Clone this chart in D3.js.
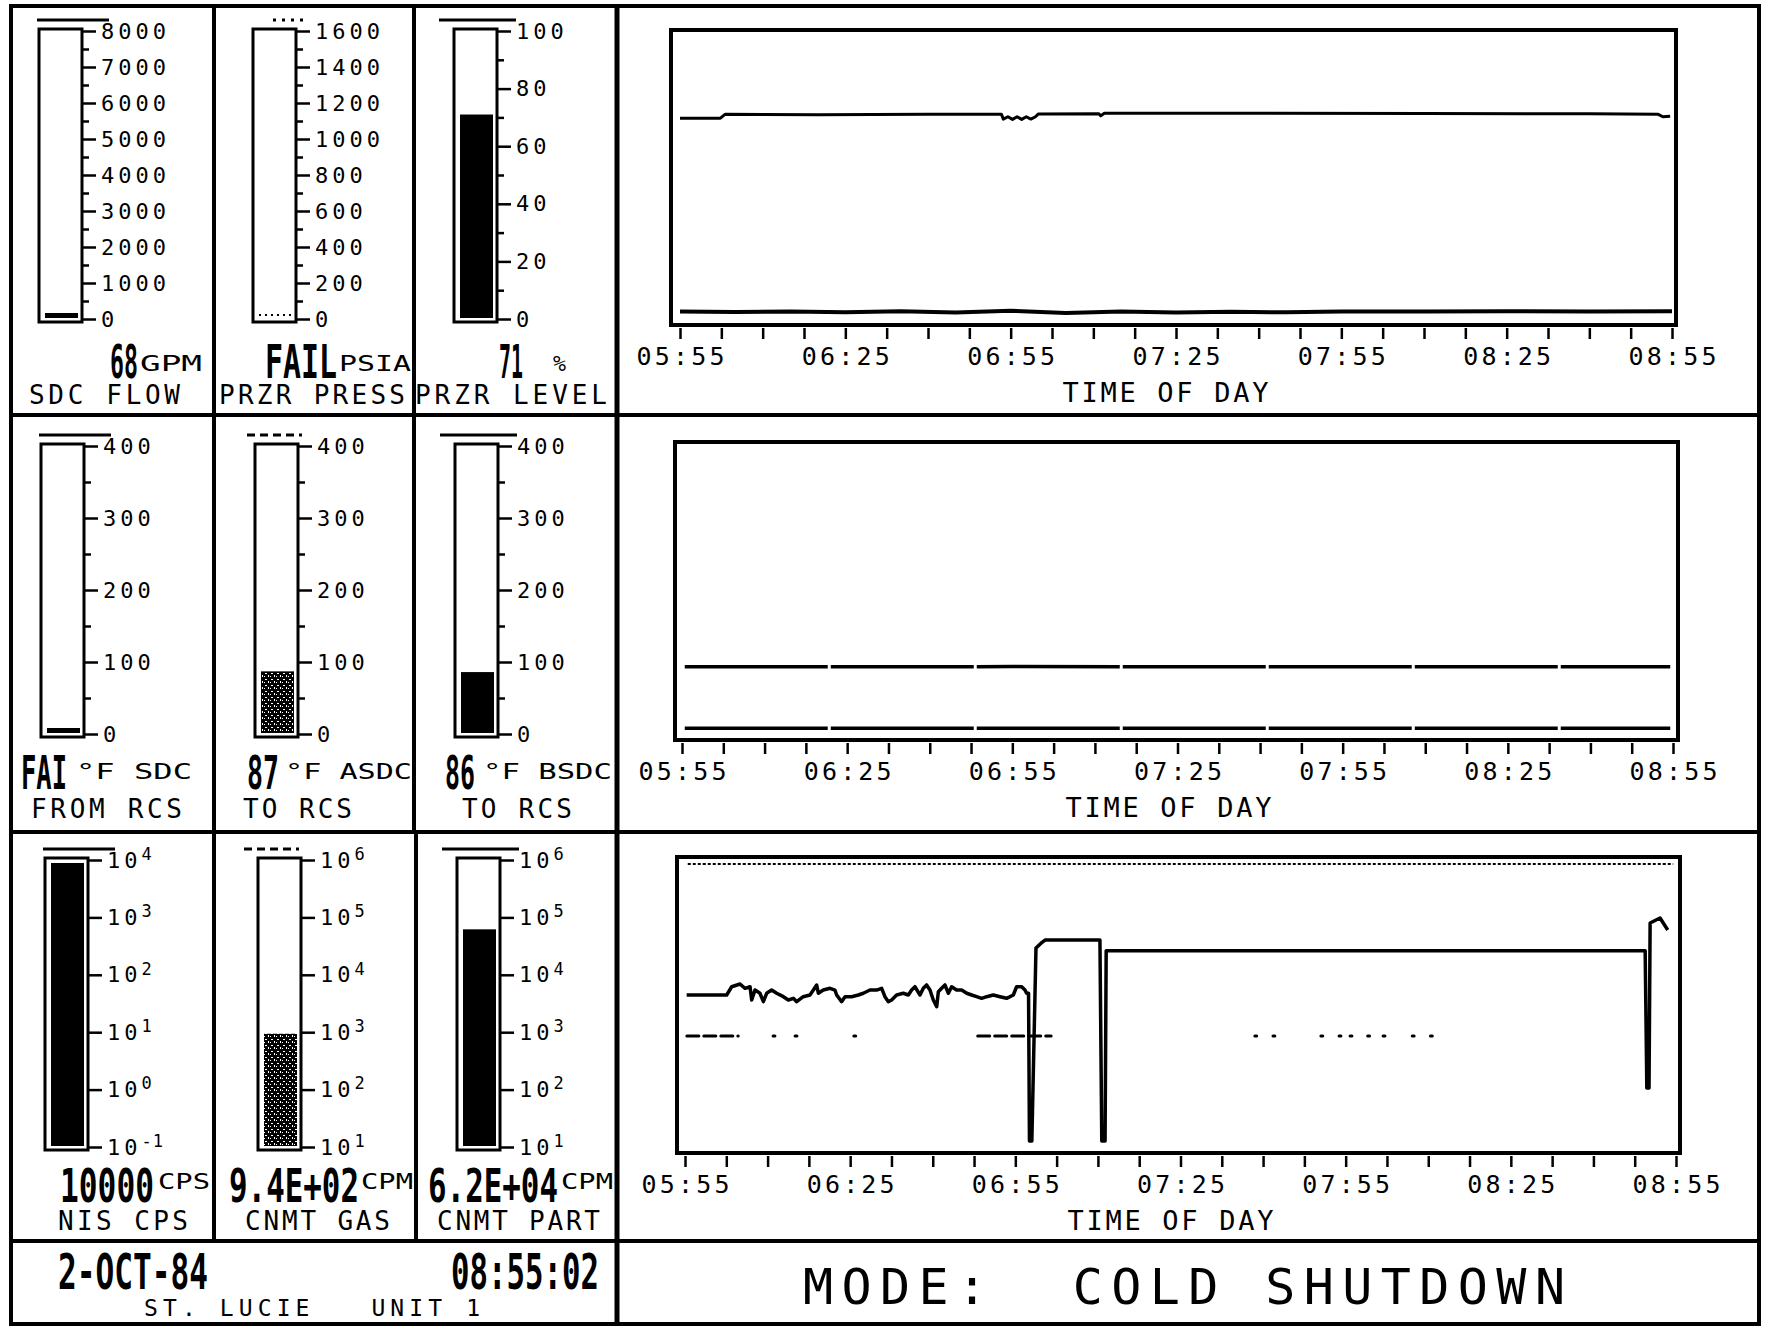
<!DOCTYPE html>
<html>
<head>
<meta charset="utf-8">
<script src="https://cdn.jsdelivr.net/npm/d3@7"></script>
<style>
  html, body { margin: 0; padding: 0; background: #fff; }
  svg { display: block; }
  text { font-family: "DejaVu Sans Mono", "Liberation Mono", monospace; fill: #000; }
</style>
</head>
<body>
<svg id="chart" width="1765" height="1326"></svg>
<script>
// ---------------- data ----------------

// Time axis labels (every 30 min, ticks every 7.5 min)
const timeLabels = ["05:55", "06:25", "06:55", "07:25", "07:55", "08:25", "08:55"];

// Bar gauges, row by row, left to right
const gaugeLabels = ["SDC FLOW", "PRZR PRESS", "PRZR LEVEL", "FROM RCS", "TO RCS", "TO RCS", "NIS CPS", "CNMT GAS", "CNMT PART"];
const gaugeReadouts = ["68", "FAIL", "71", "FAI", "87", "86", "10000", "9.4E+02", "6.2E+04"];
const gaugeUnits = ["GPM", "PSIA", "%", "°F SDC", "°F ASDC", "°F BSDC", "CPS", "CPM", "CPM"];
const gaugeValues = [68, null, 71, null, 87, 86, 10000, 940, 62000];

// Gauge tick labels
const sdcFlowTicks = [0, 1000, 2000, 3000, 4000, 5000, 6000, 7000, 8000];
const przrPressTicks = [0, 200, 400, 600, 800, 1000, 1200, 1400, 1600];
const przrLevelTicks = [0, 20, 40, 60, 80, 100];
const tempTicks = [0, 100, 200, 300, 400];
const nisDecades = [0.1, 1, 10, 100, 1000, 10000];
const radDecades = [10, 100, 1000, 10000, 100000, 1000000];

// Strip chart 1: pressurizer level (% span) and SDC flow (% span)
const levelTimes = ["05:55:00", "06:02:20", "06:03:10", "06:20:00", "06:40:00", "06:53:20", "06:53:40", "06:54:30", "06:55:20",
  "06:56:10", "06:57:00", "06:57:50", "06:58:40", "06:59:30", "07:00:00", "07:11:00", "07:11:20", "07:12:00", "07:40:00",
  "08:10:00", "08:40:00", "08:52:30", "08:53:20", "08:54:40"];
const levelValues = [70.1, 70.1, 71.4, 71.3, 71.4, 71.4, 69.8, 70.6, 69.7,
  70.6, 69.7, 70.6, 69.8, 70.6, 71.5, 71.6, 70.9, 71.8, 71.8,
  71.7, 71.6, 71.4, 70.6, 70.8];
const flowTimes = ["05:55:00", "06:05:00", "06:15:00", "06:25:00", "06:35:00", "06:45:00", "06:55:00", "07:05:00", "07:15:00",
  "07:25:00", "07:35:00", "07:45:00", "07:55:00", "08:10:00", "08:25:00", "08:40:00", "08:55:00"];
const flowValues = [4.6, 4.4, 4.6, 4.3, 4.7, 4.2, 4.8, 4.1, 4.6, 4.2, 4.5, 4.3, 4.6, 4.6, 4.7, 4.6, 4.7];

// Strip chart 2: SDC temperatures (deg F)
const tempATimes = ["05:55:30", "06:25:00", "06:55:00", "07:25:00", "07:55:00", "08:25:00", "08:54:30"];
const tempAValues = [98.4, 98.4, 98.5, 98.4, 98.4, 98.3, 98.3];
const tempBTimes = ["05:55:30", "06:25:00", "06:55:00", "07:25:00", "07:55:00", "08:25:00", "08:54:30"];
const tempBValues = [15.8, 15.7, 15.8, 15.7, 15.8, 15.7, 15.8];

// Strip chart 3: radiation monitors (log)
const partTimes = ["05:55:18", "06:02:34", "06:03:29", "06:04:59", "06:05:54", "06:06:49", "06:07:07", "06:07:43", "06:08:37",
  "06:09:14", "06:09:50", "06:10:44", "06:11:39", "06:12:52", "06:13:46", "06:14:41", "06:15:17", "06:16:29", "06:17:42",
  "06:18:19", "06:18:55", "06:19:13", "06:20:07", "06:21:20", "06:22:14", "06:22:33", "06:23:27", "06:24:04", "06:25:16",
  "06:26:29", "06:27:23", "06:28:36", "06:29:49", "06:30:43", "06:31:19", "06:31:56", "06:32:32", "06:33:26", "06:34:39",
  "06:35:34", "06:36:10", "06:36:46", "06:37:41", "06:38:17", "06:38:53", "06:39:30", "06:40:06", "06:40:43", "06:41:01",
  "06:41:37", "06:42:13", "06:42:50", "06:43:26", "06:44:20", "06:45:15", "06:46:10", "06:47:04", "06:47:58", "06:48:53",
  "06:49:47", "06:51:00", "06:52:13", "06:53:25", "06:54:38", "06:55:14", "06:56:09", "06:56:45", "06:57:03", "06:57:24",
  "06:57:34", "06:58:00", "06:58:45", "06:59:40", "07:00:24", "07:10:22", "07:10:42", "07:11:18", "07:11:30", "08:49:24",
  "08:49:42", "08:50:06", "08:50:18", "08:52:06", "08:53:30"];
const partValues = [4670, 4670, 6440, 7160, 6050, 6440, 3840, 5660, 4990,
  3600, 4990, 5660, 4990, 4370, 3840, 4100, 3600, 4370, 4670,
  5660, 6890, 4990, 5660, 6050, 5660, 4670, 3600, 4370, 4370,
  4670, 4990, 5660, 5660, 6050, 4370, 3600, 3840, 4670, 4990,
  4670, 5660, 6440, 4670, 6050, 6890, 5660, 3840, 2960, 5310,
  6050, 6890, 4990, 6440, 5660, 5660, 4990, 4670, 4370, 4100,
  4370, 4670, 4370, 4100, 4670, 6440, 6440, 5660, 4990, 4990,
  16, 16, 29000, 35000, 39600, 39600, 16, 16, 26100, 26100,
  125, 125, 76800, 93300, 58500];
const gasTimes = ["05:55:20", "05:59:00", "06:04:40", "06:04:50", "06:11:00", "06:11:20", "06:11:30", "06:15:00", "06:15:20",
  "06:15:30", "06:25:40", "06:26:00", "06:26:10", "06:48:10", "06:55:00", "07:01:30", "07:01:40", "07:38:30", "07:38:50",
  "07:39:00", "07:41:48", "07:42:08", "07:42:20", "07:50:30", "07:50:50", "07:51:00", "07:53:48", "07:54:08", "07:54:20",
  "07:55:48", "07:56:08", "07:56:20", "07:59:00", "07:59:20", "07:59:30", "08:01:48", "08:02:08", "08:02:20", "08:07:06",
  "08:07:26", "08:07:40", "08:10:24", "08:10:44"];
const gasValues = [950, 950, 950, null, 950, 950, null, 950, 950,
  null, 950, 950, null, 950, 950, 950, null, 950, 950,
  null, 950, 950, null, 950, 950, null, 950, 950, null,
  950, 950, null, 950, 950, null, 950, 950, null, 950,
  950, null, 950, 950];
const nisTimes = ["05:55:30", "07:25:00", "08:54:30"];
const nisValues = [7600, 7600, 7600];

const modeText = "MODE:  COLD SHUTDOWN";
const dateText = "2-OCT-84";
const clockText = "08:55:02";
const plantText = "ST. LUCIE   UNIT 1";

// ---------------- drawing ----------------

const svg = d3.select("#chart");
const INK = "#000";
const parseClock = d3.timeParse("%H:%M:%S");
const clock = s => parseClock(s.length === 5 ? s + ":00" : s);

// Halftone fill used by two of the bar gauges.
const defs = svg.append("defs");
const pat = defs.append("pattern").attr("id", "dither")
  .attr("width", 6).attr("height", 6).attr("patternUnits", "userSpaceOnUse");
pat.append("rect").attr("width", 6).attr("height", 6).attr("fill", INK);
pat.append("rect").attr("x", 1).attr("y", 1).attr("width", 2).attr("height", 1).attr("fill", "#fff");
pat.append("rect").attr("x", 4).attr("y", 3).attr("width", 1).attr("height", 2).attr("fill", "#fff");
pat.append("rect").attr("x", 0).attr("y", 4).attr("width", 1).attr("height", 1).attr("fill", "#fff");

svg.append("rect").attr("width", 1765).attr("height", 1326).attr("fill", "#fff");

function rule(x1, y1, x2, y2, w, dash) {
  const l = svg.append("line")
    .attr("x1", x1).attr("y1", y1).attr("x2", x2).attr("y2", y2)
    .attr("stroke", INK).attr("stroke-width", w || 4);
  if (dash) l.attr("stroke-dasharray", dash);
  return l;
}

// Text helper. squeeze: scale glyphs horizontally to width w;
// otherwise w only stretches the letter spacing.
function txt(x, y, s, size, opt) {
  opt = opt || {};
  const t = svg.append("text")
    .attr("font-size", size)
    .style("white-space", "pre")
    .text(s);
  if (opt.bold) t.attr("font-weight", "bold");
  if (opt.anchor) t.attr("text-anchor", opt.anchor);
  if (opt.w && opt.squeeze) {
    const natural = t.node().getComputedTextLength();
    t.attr("transform", `translate(${x},${y}) scale(${opt.w / natural},1)`);
  } else {
    t.attr("x", x).attr("y", y);
    if (opt.w) t.attr("textLength", opt.w).attr("lengthAdjust", "spacing");
  }
  return t;
}

// Outer frame and panel dividers
svg.append("rect").attr("x", 11).attr("y", 6).attr("width", 1748).attr("height", 1318)
  .attr("fill", "none").attr("stroke", INK).attr("stroke-width", 4);
rule(11, 415, 1759, 415);
rule(11, 832, 1759, 832);
rule(11, 1241, 1759, 1241);
rule(617, 6, 617, 1324, 5);
rule(214, 6, 214, 1241);
rule(414, 6, 414, 832);
rule(416, 832, 416, 1241);

// ---- bar gauges ----
const gaugeRows = [
  { top: 29, bottom: 322, lefts: [39, 253, 454], base: [378, 371, 404] },
  { top: 444, bottom: 737, lefts: [41, 255, 455], base: [789, 779, 818] },
  { top: 858, bottom: 1150, lefts: [45, 258, 457], base: [1202, 1189, 1230] }
];
const GW = 43;
const gaugeTicks = [sdcFlowTicks, przrPressTicks, przrLevelTicks, tempTicks, tempTicks, tempTicks, nisDecades, radDecades, radDecades];
const fillStyle = ["solid", "dots", "solid", "solid", "dither", "solid", "solid", "dither", "solid"];
const limitStyle = ["solid", "dotted", "solid", "solid", "dashed", "solid", "solid", "dashed", "solid"];
// limit bar extent relative to the gauge [from left, past right]
const limitSpan = [[-2, 27], [20, 10], [-15, 19], [-2, 27], [-8, 4], [-15, 19], [-2, 27], [-14, -2], [-15, 19]];
// [valueX, valueW, unitX, unitW, labelX, labelW]
const readoutPos = [
  [110, 28, 140, 62, 29, 151],
  [265, 72, 339, 72, 219, 186],
  [499, 24, 553, 13, 415, 192],
  [21, 46, 76, 116, 31, 151],
  [247, 32, 285, 127, 243, 109],
  [445, 30, 483, 129, 462, 110],
  [60, 94, 158, 52, 58, 130],
  [229, 130, 361, 52, 245, 145],
  [428, 130, 561, 52, 437, 163]
];

function styleAxis(g) {
  g.select(".domain").remove();
  g.attr("font-family", null).attr("font-size", 22);
  g.selectAll("line").attr("stroke", INK).attr("stroke-width", 2.5);
  g.selectAll("text").attr("fill", INK).attr("letter-spacing", 4);
}

gaugeLabels.forEach((label, i) => {
  const row = gaugeRows[Math.floor(i / 3)];
  const left = row.lefts[i % 3];
  const right = left + GW;
  const ticks = gaugeTicks[i];
  const isLog = i >= 6;
  const y = (isLog ? d3.scaleLog() : d3.scaleLinear())
    .domain([ticks[0], ticks[ticks.length - 1]])
    .range([row.bottom - 3, row.top + 2]);

  // limit bar above the gauge
  const dash = limitStyle[i] === "dashed" ? "8,5" : limitStyle[i] === "dotted" ? "3,6" : null;
  rule(left + limitSpan[i][0], row.top - 9, right + limitSpan[i][1], row.top - 9, 3, dash);

  // value fill
  const v = gaugeValues[i];
  const fillBottom = row.bottom - 4;
  if (fillStyle[i] === "dots") {
    rule(left + 6, row.bottom - 7, right - 5, row.bottom - 7, 2, "2,4");
  } else {
    let top = v == null ? fillBottom - 5 : Math.min(y(v), fillBottom - 5);
    top = Math.max(top, row.top + 5);
    svg.append("rect")
      .attr("x", left + 6).attr("y", top)
      .attr("width", GW - 10).attr("height", fillBottom - top)
      .attr("fill", fillStyle[i] === "dither" ? "url(#dither)" : INK);
  }

  svg.append("rect")
    .attr("x", left).attr("y", row.top)
    .attr("width", GW).attr("height", row.bottom - row.top)
    .attr("fill", "none").attr("stroke", INK).attr("stroke-width", 3);

  // scale
  if (!isLog) {
    const minor = d3.pairs(ticks, (a, b) => (a + b) / 2);
    svg.append("g").attr("transform", `translate(${right},0)`)
      .call(d3.axisRight(y).tickValues(minor).tickSize(7).tickFormat(""))
      .call(styleAxis);
  }
  const g = svg.append("g").attr("transform", `translate(${right},0)`)
    .call(d3.axisRight(y).tickValues(ticks).tickSize(14).tickPadding(5)
      .tickFormat(isLog ? () => "" : d3.format("d")))
    .call(styleAxis);
  if (isLog) {
    g.selectAll(".tick text").each(function (d) {
      const t = d3.select(this);
      t.append("tspan").text("10");
      t.append("tspan").attr("dy", "-0.45em").attr("font-size", 17).attr("letter-spacing", 1)
        .text(Math.round(Math.log10(d)));
    });
  }

  // readout and label
  const p = readoutPos[i];
  txt(p[0], row.base[0], gaugeReadouts[i], 47, { w: p[1], squeeze: true, bold: true });
  txt(p[2], row.base[1], gaugeUnits[i], 21, { w: p[3], squeeze: true });
  txt(p[4], row.base[2], label, 26, { w: p[5] });
});

// ---- strip charts ----
const t0 = clock(timeLabels[0]);
const t1 = clock(timeLabels[timeLabels.length - 1]);
const tickDates = d3.range(0, 181, 7.5).map(m => new Date(t0.getTime() + m * 60000));

const strips = [
  {
    frame: [671, 30, 1676, 325], span: [680, 1672],
    series: [
      { times: levelTimes, values: levelValues, y: d3.scaleLinear().domain([0, 100]), width: 3 },
      { times: flowTimes, values: flowValues, y: d3.scaleLinear().domain([0, 100]), width: 4 }
    ]
  },
  {
    frame: [675, 442, 1678, 740], span: [682, 1673],
    series: [
      { times: tempATimes, values: tempAValues, y: d3.scaleLinear().domain([0, 400]), width: 3.5, dash: "143,3" },
      { times: tempBTimes, values: tempBValues, y: d3.scaleLinear().domain([0, 400]), width: 3.5, dash: "143,3" }
    ]
  },
  {
    frame: [677, 857, 1680, 1153], span: [685, 1676],
    series: [
      { times: nisTimes, values: nisValues, y: d3.scaleLog().domain([0.1, 1e4]), width: 2, dash: "3,2" },
      { times: gasTimes, values: gasValues, y: d3.scaleLog().domain([10, 1e6]), width: 3, dash: "12,5", cap: "round" },
      { times: partTimes, values: partValues, y: d3.scaleLog().domain([10, 1e6]), width: 3.5 }
    ]
  }
];

strips.forEach(s => {
  const [x0, y0, x1, y1] = s.frame;
  const x = d3.scaleTime().domain([t0, t1]).range(s.span);

  s.series.forEach(ser => {
    const y = ser.y.copy().range([y1, y0]);
    const pts = ser.times.map((t, k) => ({ t: clock(t), v: ser.values[k] }));
    const path = svg.append("path")
      .datum(pts)
      .attr("fill", "none")
      .attr("stroke", INK)
      .attr("stroke-width", ser.width)
      .attr("stroke-linejoin", "round")
      .attr("stroke-linecap", ser.cap || "butt")
      .attr("d", d3.line().defined(d => d.v != null).x(d => x(d.t)).y(d => y(d.v)));
    if (ser.dash) path.attr("stroke-dasharray", ser.dash);
  });

  svg.append("rect")
    .attr("x", x0).attr("y", y0).attr("width", x1 - x0).attr("height", y1 - y0)
    .attr("fill", "none").attr("stroke", INK).attr("stroke-width", 4);

  const ax = svg.append("g").attr("transform", `translate(0,${y1 + 3})`)
    .call(d3.axisBottom(x).tickValues(tickDates).tickSize(11)
      .tickFormat((d, i) => (i % 4 === 0 ? timeLabels[i / 4] : "")));
  ax.select(".domain").remove();
  ax.attr("font-family", null).attr("font-size", 25);
  ax.selectAll("line").attr("stroke", INK).attr("stroke-width", 2.5);
  ax.selectAll("text").attr("fill", INK).attr("y", 37).attr("dy", 0)
    .filter((d, i) => i % 4 === 0).attr("textLength", 88).attr("lengthAdjust", "spacing");

  txt((x0 + x1) / 2 - 8, y1 + 77, "TIME OF DAY", 27, { w: 206, anchor: "middle" });
});

// ---- bottom boxes ----
txt(58, 1289, dateText, 50, { w: 150, squeeze: true, bold: true });
txt(451, 1289, clockText, 50, { w: 148, squeeze: true, bold: true });
txt(144, 1316, plantText, 23, { w: 336 });
txt(803, 1304, modeText, 50, { w: 762 });
</script>
</body>
</html>
